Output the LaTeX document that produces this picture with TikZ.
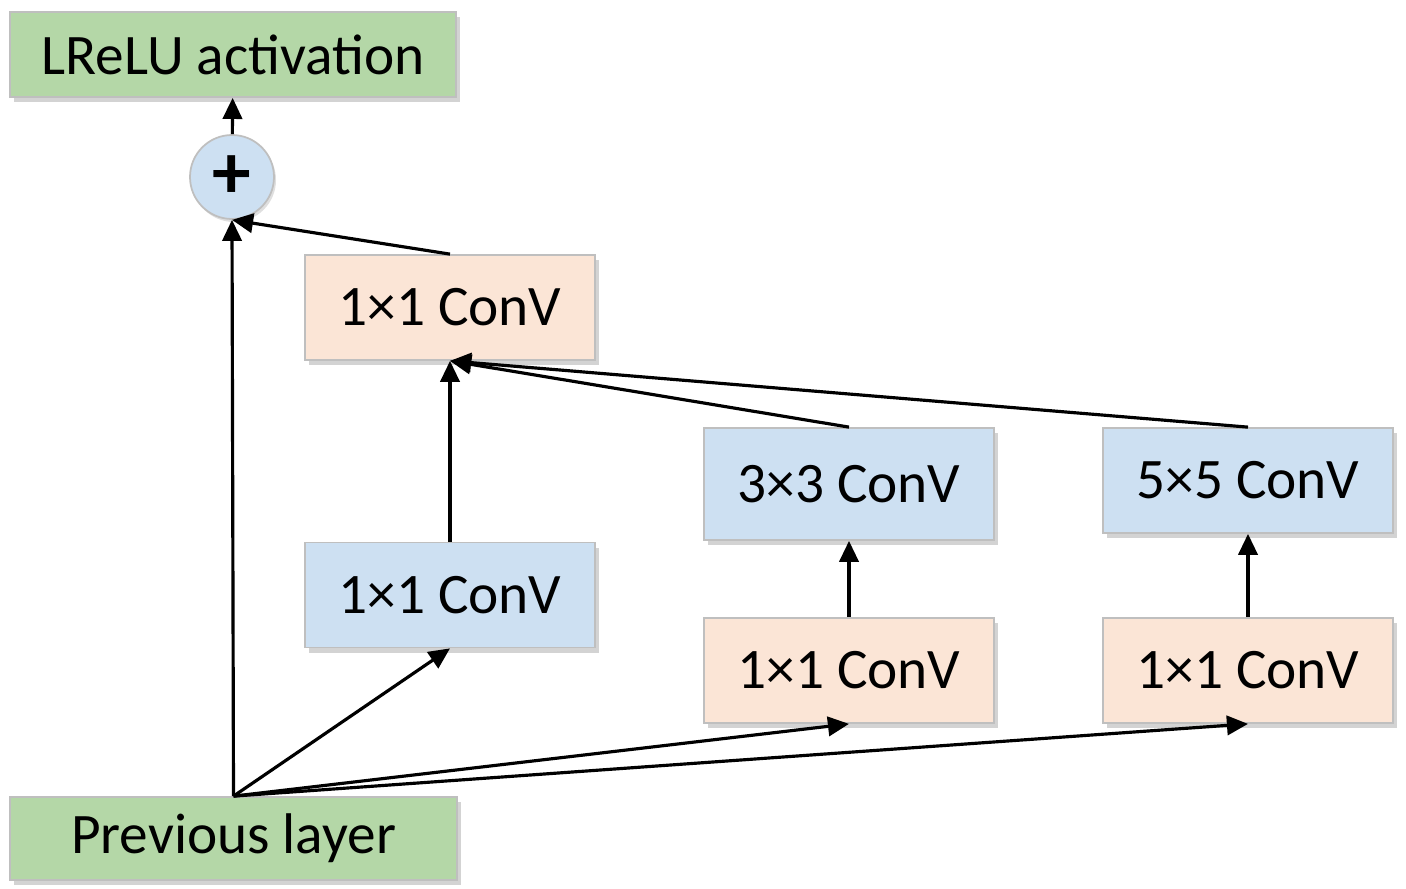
\documentclass[tikz,border=0pt]{standalone}
\usepackage{fontspec}
\setmainfont{Carlito}
\usepackage{xcolor}
\usetikzlibrary{arrows.meta, shadows}

\definecolor{lgreen}{HTML}{B4D7A7}
\definecolor{lpeach}{HTML}{FBE5D6}
\definecolor{lblue}{HTML}{CDE0F2}

\begin{document}
\begin{tikzpicture}[->,>={Triangle[length=6pt,width=5.5pt]},line width=0.9pt,
    blk/.style={rectangle,draw=black!25,line width=0.5pt,minimum width=2.9cm,minimum height=1.05cm,
                font=\fontsize{16.3}{19}\selectfont,
                drop shadow={opacity=0.35,shadow xshift=0.04cm,shadow yshift=-0.05cm}},
    bluebox/.style={blk,fill=lblue},
    peachbox/.style={blk,fill=lpeach},
    greenbox/.style={blk,fill=lgreen,minimum width=4.46cm,minimum height=0.85cm}]
    \useasboundingbox (0,0) rectangle (14.06,8.88);

    \node[greenbox] (act) at (2.33,8.335) {LReLU activation};
    \node[circle,draw=black!25,line width=0.5pt,fill=lblue,minimum size=0.84cm,inner sep=0pt,
          drop shadow={opacity=0.25,shadow xshift=0.02cm,shadow yshift=-0.03cm},
          font=\fontsize{22}{22}\selectfont\bfseries] (sum) at (2.32,7.11) {+};
    \node[peachbox] (c1b) at (4.50,5.805) {1×1 ConV};
    \node[bluebox] (c1a) at (4.50,2.93) {1×1 ConV};
    \node[bluebox,minimum height=1.12cm] (c3) at (8.49,4.04) {3×3 ConV};
    \node[peachbox] (r3) at (8.49,2.175) {1×1 ConV};
    \node[bluebox] (c5) at (12.48,4.075) {5×5 ConV};
    \node[peachbox] (r5) at (12.48,2.175) {1×1 ConV};
    \node[greenbox,minimum height=0.83cm,minimum width=4.47cm] (prev) at (2.335,0.495) {Previous layer};

    \path (prev.north) edge (sum.south)
          (prev.north) edge (c1a.south)
          (prev.north) edge (r3.south)
          (prev.north) edge (r5.south)
          (r3) edge (c3)
          (r5) edge (c5)
          (c1a) edge (c1b)
          (c3.north) edge (c1b.south)
          (c5.north) edge (c1b.south)
          (c1b.north) edge (sum.south)
          (sum) edge (act);
\end{tikzpicture}
\end{document}
